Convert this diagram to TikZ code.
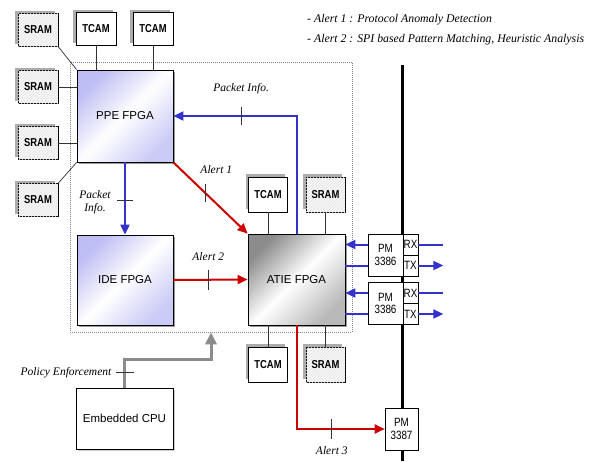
\documentclass[tikz,border=0pt]{standalone}
\usepackage{fontspec}
\usepackage{graphicx}
\setmainfont{Liberation Serif}
\setsansfont{Liberation Sans}
\usetikzlibrary{arrows.meta,shadows,patterns,calc}
\definecolor{lnblue}{RGB}{51,51,204}
\definecolor{lnred}{RGB}{204,0,0}
\definecolor{lav}{RGB}{190,190,245}
\definecolor{arrgray}{RGB}{140,140,140}
\newcommand\nrw[1]{\scalebox{0.82}[1]{#1}}
\newcommand\pmt[1]{\scalebox{0.82}[1]{#1}}
\begin{document}
\begin{tikzpicture}[x=1pt,y=-1pt,
  mem/.style={draw=black, line width=0.6pt, fill=white, minimum width=40pt, minimum height=33pt, inner sep=0pt,
    font=\sffamily\bfseries\fontsize{11.5}{12}\selectfont,
    drop shadow={shadow xshift=-3pt, shadow yshift=3pt, fill=gray!65, opacity=1}},
  sram/.style={mem, fill=gray!6, postaction={pattern=north east lines, pattern color=gray!22}},
  fpga/.style={draw=black, line width=0.8pt, minimum width=96pt, minimum height=91pt, inner sep=0pt,
    font=\sffamily\fontsize{11.5}{13}\selectfont,
    drop shadow={shadow xshift=1.5pt, shadow yshift=-1.5pt, fill=gray!80, opacity=1}},
  lavfill/.style={top color=lav, bottom color=lav!80, middle color=white, shading angle=45},
  grayfill/.style={top color=gray!90, bottom color=gray!55, middle color=white, shading angle=45},
  pmbox/.style={draw=black, line width=0.6pt, fill=white, inner sep=0pt, align=center,
    font=\sffamily\fontsize{12}{12.5}\selectfont},
  lbl/.style={font=\itshape\fontsize{11.5}{13}\selectfont, inner sep=0pt, align=center},
  conn/.style={draw=black!80, line width=0.7pt},
  tick/.style={draw=black!80, line width=0.6pt},
  bluearrow/.style={draw=lnblue, line width=2pt, -{Triangle[length=10pt,width=9pt]}},
  blueline/.style={draw=lnblue, line width=2pt},
  redarrow/.style={draw=lnred, line width=2pt, -{Triangle[length=10pt,width=9pt]}},
  grayarrow/.style={draw=arrgray, line width=3pt, -{Triangle[length=12pt,width=11pt]}}
]
\useasboundingbox (0,0) rectangle (591,461);

% dashed group
\node[draw=gray, line width=0.6pt, dash pattern=on 1pt off 1pt, minimum width=282pt, minimum height=270pt, inner sep=0pt] (grp) at (211,197) {};

% bus
\coordinate (bt) at (402,65);
\coordinate (bb) at (402,461);
\draw[line width=3pt] (bt) -- (bb);

% legend
\node[lbl, anchor=west, font=\itshape\fontsize{11.8}{13}\selectfont] (leg1) at (307,20) {- Alert 1 : Protocol Anomaly Detection};
\node[lbl, anchor=west, font=\itshape\fontsize{11.8}{13}\selectfont] (leg2) at (307,40) {- Alert 2 : SPI based Pattern Matching, Heuristic Analysis};

% memories
\node[sram] (s1) at (38,30) {\nrw{SRAM}};
\node[sram] (s2) at (38,87) {\nrw{SRAM}};
\node[sram] (s3) at (38,143) {\nrw{SRAM}};
\node[sram] (s4) at (38,200) {\nrw{SRAM}};
\node[mem] (t1) at (96,29) {\nrw{TCAM}};
\node[mem] (t2) at (153,29) {\nrw{TCAM}};
\node[mem, minimum width=39pt, minimum height=35pt] (t3) at (268,194.5) {\nrw{TCAM}};
\node[sram, minimum width=39pt, minimum height=35pt] (s5) at (325.5,194.5) {\nrw{SRAM}};
\node[mem, minimum width=39pt, minimum height=35pt] (t4) at (268,364.5) {\nrw{TCAM}};
\node[sram, minimum width=39pt, minimum height=35pt] (s6) at (325.5,364.5) {\nrw{SRAM}};

% FPGAs
\node[fpga, lavfill, minimum height=92pt] (ppe) at (125,116) {PPE FPGA};
\node[fpga, lavfill, minimum height=90pt] (ide) at (125,280) {IDE FPGA};
\node[fpga, grayfill, minimum width=97pt] (atie) at (296.5,279.5) {ATIE FPGA};

% CPU
\node[draw=black, line width=0.7pt, fill=white, minimum width=97pt, minimum height=61pt,
  font=\sffamily\fontsize{11.5}{13}\selectfont,
  drop shadow={shadow xshift=1.5pt, shadow yshift=-1.5pt, fill=gray!40, opacity=1}] (cpu) at (124.5,418.5) {Embedded CPU};

% PM boxes
\node[pmbox, minimum width=35pt, minimum height=42pt] (pm1) at (385.5,255) {\pmt{PM}\\\pmt{3386}};
\node[pmbox, minimum width=15pt, minimum height=21pt] (rx1) at (410.5,244.5) {\pmt{RX}};
\node[pmbox, minimum width=15pt, minimum height=21pt] (tx1) at (410.5,265.5) {\pmt{TX}};
\node[pmbox, minimum width=35pt, minimum height=42pt] (pm2) at (385.5,303.5) {\pmt{PM}\\\pmt{3386}};
\node[pmbox, minimum width=15pt, minimum height=21pt] (rx2) at (410.5,293) {\pmt{RX}};
\node[pmbox, minimum width=15pt, minimum height=21pt] (tx2) at (410.5,314) {\pmt{TX}};
\node[pmbox, minimum width=33pt, minimum height=42pt] (pm3) at (401.5,429) {\pmt{PM}\\\pmt{3387}};

% memory connectors
\draw[conn] (s1.south east) -- (ppe.north west);
\draw[conn] (s2.east) -- (s2.east -| ppe.west);
\draw[conn] (s3.east) -- (s3.east -| ppe.west);
\draw[conn] (s4.north east) -- (ppe.south west);
\draw[conn] (t1.south) -- (t1.south |- ppe.north);
\draw[conn] (t2.south) -- (t2.south |- ppe.north);
\draw[conn] (t3.south) -- (t3.south |- atie.north);
\draw[conn] (s5.south) -- (s5.south |- atie.north);
\draw[conn] (t4.north) -- (t4.north |- atie.south);
\draw[conn] (s6.north) -- (s6.north |- atie.south);

% packet info (ATIE -> PPE)
\draw[bluearrow] (atie.north) -- (atie.north |- ppe.east) -- (ppe.east);
\coordinate (pk) at ($(atie.north |- ppe.east)!0.45!(ppe.east)$);
\draw[tick] ($(pk)+(0,-9)$) -- ($(pk)+(0,9)$);
\node[lbl] (pklbl) at ($(pk)+(0,-27)$) {Packet Info.};

% packet info (PPE -> IDE)
\draw[bluearrow] (ppe.south) -- (ide.north);
\coordinate (pk2) at ($(ppe.south)!0.53!(ide.north)$);
\draw[tick] ($(pk2)+(-8,0)$) -- ($(pk2)+(8,0)$);
\node[lbl] (pk2lbl) at ($(pk2)+(-30,2)$) {Packet\\Info.};

% alert 1
\draw[redarrow] (ppe.south east) -- (atie.north west);
\coordinate (a1) at ($(ppe.south east)!0.43!(atie.north west)$);
\draw[tick] ($(a1)+(0,-9)$) -- ($(a1)+(0,9)$);
\node[lbl] (a1lbl) at ($(a1)+(11,-23)$) {Alert 1};

% alert 2
\draw[redarrow] (ide.east) -- (atie.west);
\coordinate (a2) at ($(ide.east)!0.47!(atie.west)$);
\draw[tick] ($(a2)+(0,-10)$) -- ($(a2)+(0,10)$);
\node[lbl] (a2lbl) at ($(a2)+(0,-23)$) {Alert 2};

% alert 3
\draw[redarrow] (atie.south) -- (atie.south |- pm3.west) -- (pm3.west);
\coordinate (a3) at ($(atie.south |- pm3.west)!0.4!(pm3.west)$);
\draw[tick] ($(a3)+(0,-10)$) -- ($(a3)+(0,10)$);
\node[lbl] (a3lbl) at ($(a3)+(0,22)$) {Alert 3};

% policy enforcement
\coordinate (g1) at ($(cpu.north)+(0,-28)$);
\draw[grayarrow] (cpu.north) -- (g1) -| (grp.south);
\coordinate (pe) at ($(cpu.north)!0.54!(g1)$);
\draw[tick] ($(pe)+(-9,0)$) -- ($(pe)+(9,0)$);
\node[lbl, anchor=east] (pelbl) at ($(pe)+(-13,0)$) {Policy Enforcement};

% PM links
\draw[bluearrow] (rx1 -| pm1.west) -- (rx1 -| atie.east);
\draw[blueline] (tx1 -| pm1.west) -- (tx1 -| atie.east);
\draw[bluearrow] (rx2 -| pm2.west) -- (rx2 -| atie.east);
\draw[blueline] (tx2 -| pm2.west) -- (tx2 -| atie.east);
\coordinate (rx1o) at ($(rx1.east)+(25,0)$);
\coordinate (tx1o) at ($(tx1.east)+(25,0)$);
\coordinate (rx2o) at ($(rx2.east)+(25,0)$);
\coordinate (tx2o) at ($(tx2.east)+(25,0)$);
\draw[blueline] (rx1.east) -- (rx1o);
\draw[bluearrow] (tx1.east) -- (tx1o);
\draw[blueline] (rx2.east) -- (rx2o);
\draw[bluearrow] (tx2.east) -- (tx2o);
\end{tikzpicture}
\end{document}
